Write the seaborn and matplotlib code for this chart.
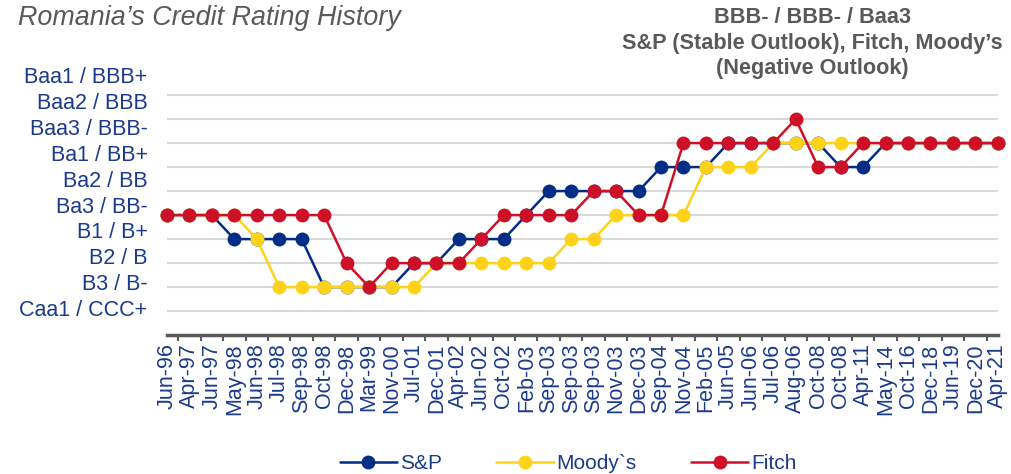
import numpy as np
import pandas as pd
import matplotlib
matplotlib.use("Agg")
import matplotlib.pyplot as plt
from matplotlib.lines import Line2D
import seaborn as sns

# rating dates (x axis, in order of rating actions)
dates = ["Jun-96", "Apr-97", "Jun-97", "May-98", "Jun-98", "Jul-98", "Sep-98", "Oct-98",
         "Dec-98", "Mar-99", "Nov-00", "Jul-01", "Dec-01", "Apr-02", "Jun-02", "Oct-02",
         "Feb-03", "Sep-03", "Sep-03", "Sep-03", "Nov-03", "Dec-03", "Sep-04", "Nov-04",
         "Feb-05", "Jun-05", "Jun-06", "Jul-06", "Aug-06", "Oct-08", "Oct-08", "Apr-11",
         "May-14", "Oct-16", "Dec-18", "Jun-19", "Dec-20", "Apr-21"]

# rating scale, level 1 = Caa1 / CCC+ ... level 10 = Baa1 / BBB+
rating_labels = ["Caa1 / CCC+", "B3 / B-", "B2 / B", "B1 / B+", "Ba3 / BB-",
                 "Ba2 / BB", "Ba1 / BB+", "Baa3 / BBB-", "Baa2 / BBB", "Baa1 / BBB+"]

sp = [5, 5, 5, 4, 4, 4, 4, 2, 2, 2, 2, 3, 3, 4, 4, 4, 5, 6, 6, 6, 6, 6, 7, 7, 7,
      8, 8, 8, 8, 8, 7, 7, 8, 8, 8, 8, 8, 8]
moodys = [5, 5, 5, 5, 4, 2, 2, 2, 2, 2, 2, 2, 3, 3, 3, 3, 3, 3, 4, 4, 5, 5, 5, 5,
          7, 7, 7, 8, 8, 8, 8, 8, 8, 8, 8, 8, 8, 8]
fitch = [5, 5, 5, 5, 5, 5, 5, 5, 3, 2, 3, 3, 3, 3, 4, 5, 5, 5, 5, 6, 6, 5, 5, 8,
         8, 8, 8, 8, 9, 7, 7, 8, 8, 8, 8, 8, 8, 8]

agencies = ["S&P", "Moody`s", "Fitch"]
colors = {"S&P": "#002D86", "Moody`s": "#FFD21A", "Fitch": "#CD1027"}
navy = "#1B3A8C"
grey = "#595959"

df = pd.concat([
    pd.DataFrame({"pos": np.arange(len(dates)), "level": vals, "agency": name})
    for name, vals in zip(agencies, [sp, moodys, fitch])
], ignore_index=True)

sns.set_theme(style="white")
plt.rcParams["font.family"] = ["Liberation Sans", "DejaVu Sans"]

fig = plt.figure(figsize=(10.12, 4.74), dpi=100)
ax = fig.add_axes([0.165, 0.293, 0.821, 0.552])

sns.lineplot(data=df, x="pos", y="level", hue="agency", hue_order=agencies,
             palette=colors, marker="o", markersize=10, markeredgewidth=0,
             linewidth=1.8, sort=False, estimator=None, legend=False, ax=ax)
for ln in ax.lines:
    ln.set_clip_on(False)
    ln.set_zorder(3)

# gridlines at each rating level
ax.set_yticks(np.arange(1, len(rating_labels) + 1))
ax.set_yticklabels([])
ax.yaxis.grid(True, color="#D9D9D9", linewidth=1.5)
ax.tick_params(axis="y", which="major", length=0)
# rating labels sit in a text block with slightly wider spacing than the grid
label_step = 1.08
ax.set_yticks(1.12 + label_step * np.arange(len(rating_labels)), minor=True)
ax.set_yticklabels(rating_labels, minor=True)
ax.tick_params(axis="y", which="minor", length=0, pad=14, labelsize=15.5,
               labelcolor=navy)

ax.set_xticks(np.arange(len(dates)))
ax.set_xticklabels(dates, rotation=90)
ax.tick_params(axis="x", which="major", length=0, pad=6, labelsize=15.5,
               labelcolor=navy)
ax.set_xticks(np.r_[0, np.arange(0.5, len(dates) - 1, 1), len(dates) - 1], minor=True)
ax.tick_params(axis="x", which="minor", length=4, width=1.5, color=grey,
               direction="out", bottom=True)

ax.set_xlim(0, len(dates) - 1)
ax.set_ylim(0, 10.9)

ax.set_xlabel("")
ax.set_ylabel("")
for side in ["top", "right", "left"]:
    ax.spines[side].set_visible(False)
ax.spines["bottom"].set_color(grey)
ax.spines["bottom"].set_linewidth(2.5)

fig.text(0.018, 0.962, "Romania\u2019s Credit Rating History", fontsize=19.4,
         style="italic", color=grey, va="center", ha="left")
fig.text(0.803, 0.985,
         "BBB- / BBB- / Baa3\nS&P (Stable Outlook), Fitch, Moody\u2019s\n(Negative Outlook)",
         fontsize=15.6, fontweight="bold", color=grey, ha="center", va="top",
         linespacing=1.28)

handles = [Line2D([], [], color=colors[a], marker="o", markersize=10,
                  markeredgewidth=0, linewidth=1.8) for a in agencies]
fig.legend(handles, agencies, loc="center", bbox_to_anchor=(0.5616, 0.022),
           ncol=3, frameon=False, fontsize=15, labelcolor=navy,
           handlelength=2.75, handletextpad=0.15, columnspacing=2.6)

fig.savefig("out.png", dpi=100)
